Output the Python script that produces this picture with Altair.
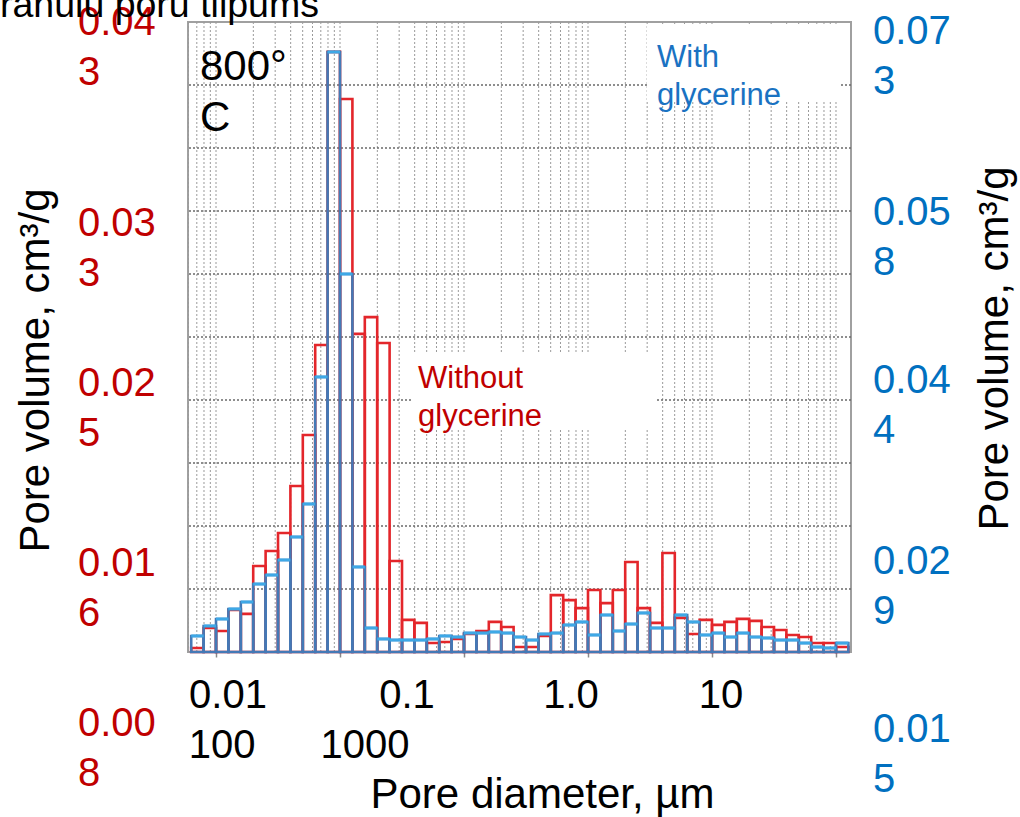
import altair as alt
import numpy as np
import pandas as pd

# ---------------- data ----------------
# histogram bins: 10 bins per decade of pore diameter (µm)
bin_edges_um = [10 ** (-2.2 + 0.1 * i) for i in range(54)]

red_volume = [  # without glycerine (left axis)
    0.01242, 0.01342, 0.01327, 0.01432, 0.01412, 0.01651, 0.01726, 0.01816, 0.02051, 0.02305,
    0.02755, 0.04218, 0.03983, 0.02810, 0.02894, 0.02765, 0.01676, 0.01382, 0.01367, 0.01267,
    0.01272, 0.01287, 0.01312, 0.01327, 0.01372, 0.01347, 0.01247, 0.01247, 0.01302, 0.01506,
    0.01481, 0.01441, 0.01531, 0.01466, 0.01531, 0.01671, 0.01441, 0.01367, 0.01716, 0.01392,
    0.01312, 0.01382, 0.01357, 0.01372, 0.01387, 0.01377, 0.01347, 0.01332, 0.01307, 0.01297,
    0.01267, 0.01267, 0.01247,
]
blue_volume = [  # with glycerine (right axis)
    0.02384, 0.02467, 0.02525, 0.02608, 0.02666, 0.02815, 0.02890, 0.03015, 0.03206, 0.03480,
    0.04535, 0.07234, 0.05390, 0.02957, 0.02450, 0.02359, 0.02350, 0.02350, 0.02350, 0.02359,
    0.02384, 0.02375, 0.02408, 0.02408, 0.02417, 0.02408, 0.02375, 0.02350, 0.02400, 0.02408,
    0.02475, 0.02500, 0.02392, 0.02558, 0.02425, 0.02483, 0.02575, 0.02450, 0.02450, 0.02558,
    0.02500, 0.02392, 0.02408, 0.02375, 0.02408, 0.02375, 0.02367, 0.02350, 0.02350, 0.02325,
    0.02292, 0.02284, 0.02325,
]

red_tick_values = [0.043, 0.033, 0.025, 0.016, 0.008]
blue_tick_values = [0.073, 0.058, 0.044, 0.029, 0.015]
x_labels_row1 = ["0.01", "0.1", "1.0", "10"]
x_labels_row1_at = [0.0125, 0.347, 7.3, 118]
x_labels_row2 = ["100", "1000"]
x_labels_row2_at = [0.0112, 0.159]
decades = [0.01, 0.1, 1, 10, 100, 1000]

X_DOMAIN = [0.005944, 1321.3]
RED_DOMAIN = [0.012218, 0.043674]
BLUE_DOMAIN = [0.022506, 0.074827]

RED = "#e3262b"
RED_TXT = "#c00000"
BLUE = "#4479b6"
BLUE_CAP = "#3ea8e6"
BLUE_TXT = "#0070c0"
FONT = "Liberation Sans"

bins = pd.DataFrame({
    "lo": bin_edges_um[:-1],
    "hi": bin_edges_um[1:],
    "red": red_volume,
    "blue": blue_volume,
})

vgrid_vals = [k * 10.0 ** n for n in range(-3, 4) for k in range(1, 10)
              if X_DOMAIN[0] < k * 10.0 ** n < X_DOMAIN[1]]
vgrid = pd.DataFrame({"g": vgrid_vals})
hgrid = pd.DataFrame({"g": list(np.linspace(RED_DOMAIN[0], RED_DOMAIN[1], 11)[1:-1])})


def wrap(v):
    s = f"{v:.3f}"
    return s[:4] + "\n" + s[4:]


red_ticks = pd.DataFrame({"v": red_tick_values, "t": [wrap(v) for v in red_tick_values]})
blue_ticks = pd.DataFrame({"v": blue_tick_values, "t": [wrap(v) for v in blue_tick_values]})
xl1 = pd.DataFrame({"t": x_labels_row1, "d": x_labels_row1_at})
xl2 = pd.DataFrame({"t": x_labels_row2, "d": x_labels_row2_at})

# white boxes behind the two legend-like annotations (diameter / left-axis units)
label_boxes = pd.DataFrame({
    "d1": [0.3807, 29.9], "d2": [36.0, 1077.0],
    "v1": [0.027197, 0.043574], "v2": [0.023402, 0.039779],
})

# ---------------- scales / axes ----------------
x_scale = alt.Scale(type="log", domain=X_DOMAIN, nice=False)
red_scale = alt.Scale(domain=RED_DOMAIN, nice=False, zero=False)
blue_scale = alt.Scale(domain=BLUE_DOMAIN, nice=False, zero=False)

x_axis = alt.Axis(orient="bottom", values=decades, labels=False, ticks=True, tickSize=5,
                  tickColor="#888888", tickWidth=1.5, domain=False, grid=False,
                  title="Pore diameter, µm", titleFontSize=42, titleFontWeight="normal",
                  titleColor="black", titleFont=FONT, titleBaseline="alphabetic",
                  titleAlign="center", titleX=354, titleY=155)
red_axis = alt.Axis(orient="left", labels=False, ticks=False, domain=False, grid=False,
                    title="Pore volume, cm³/g", titleFontSize=42, titleFontWeight="normal",
                    titleColor="black", titleFont=FONT, titleAngle=270,
                    titleBaseline="alphabetic", titleAlign="center", titleX=-140, titleY=348)
blue_axis = alt.Axis(orient="right", labels=False, ticks=False, domain=False, grid=False,
                     title="Pore volume, cm³/g", titleFontSize=42, titleFontWeight="normal",
                     titleColor="black", titleFont=FONT, titleAngle=270,
                     titleBaseline="alphabetic", titleAlign="center", titleX=156, titleY=326)

X = lambda f: alt.X(f, type="quantitative", scale=x_scale, axis=x_axis)
YR = lambda f: alt.Y(f, type="quantitative", scale=red_scale, axis=red_axis)
YB = lambda f: alt.Y(f, type="quantitative", scale=blue_scale, axis=blue_axis)

# ---------------- red group (left scale) ----------------
vgrid_layer = alt.Chart(vgrid).mark_rule(color="#9a9a9a", strokeWidth=1, strokeDash=[2, 2]).encode(
    x=X("g"))
hgrid_layer = alt.Chart(hgrid).mark_rule(color="#6a6a6a", strokeWidth=1.3, strokeDash=[2, 2]).encode(
    y=YR("g"))
boxes = alt.Chart(label_boxes).mark_rect(color="white").encode(
    x=X("d1"), x2="d2", y=YR("v1"), y2="v2")
red_bars = alt.Chart(bins).mark_rect(fillOpacity=0, stroke=RED, strokeWidth=2.6).encode(
    x=X("lo"), x2="hi", y=YR("red"), y2=alt.datum(RED_DOMAIN[0]))
red_labels = alt.Chart(red_ticks).mark_text(
    align="left", baseline="alphabetic", fontSize=40, font=FONT, color=RED_TXT,
    lineBreak="\n", lineHeight=50).encode(x=alt.value(-110), y=YR("v"), text="t:N")
ann_800 = alt.Chart(pd.DataFrame({"t": ["800°\nC"], "d": [0.00743], "v": [0.040778]})).mark_text(
    align="left", baseline="alphabetic", fontSize=42, font=FONT, color="black",
    lineBreak="\n", lineHeight=51).encode(x=X("d"), y=YR("v"), text="t:N")
ann_without = alt.Chart(pd.DataFrame({"t": ["Without\nglycerine"], "d": [0.4256], "v": [0.0254]})).mark_text(
    align="left", baseline="alphabetic", fontSize=31, font=FONT, color=RED_TXT,
    lineBreak="\n", lineHeight=38.5).encode(x=X("d"), y=YR("v"), text="t:N")
xlab1 = alt.Chart(xl1).mark_text(align="center", baseline="alphabetic", fontSize=40, font=FONT,
                                 color="black").encode(x=X("d"), y=alt.value(686), text="t:N")
xlab2 = alt.Chart(xl2).mark_text(align="center", baseline="alphabetic", fontSize=40, font=FONT,
                                 color="black").encode(x=X("d"), y=alt.value(736), text="t:N")
title_txt = alt.Chart(pd.DataFrame({"t": ["ranulu poru tilpums"]})).mark_text(
    align="left", baseline="alphabetic", fontSize=37.5, font=FONT, color="black").encode(
    x=alt.value(-188), y=alt.value(-5), text="t:N")

red_group = alt.layer(vgrid_layer, hgrid_layer, boxes, red_bars, red_labels, ann_800, ann_without,
                      xlab1, xlab2, title_txt)

# ---------------- blue group (right scale) ----------------
blue_bars = alt.Chart(bins).mark_rect(fillOpacity=0, stroke=BLUE, strokeWidth=2.6).encode(
    x=X("lo"), x2="hi", y=YB("blue"), y2=alt.datum(BLUE_DOMAIN[0]))
blue_caps = alt.Chart(bins).mark_rule(color=BLUE_CAP, strokeWidth=3).encode(
    x=X("lo"), x2="hi", y=YB("blue"))
blue_labels = alt.Chart(blue_ticks).mark_text(
    align="left", baseline="alphabetic", fontSize=40, font=FONT, color=BLUE_TXT,
    lineBreak="\n", lineHeight=50).encode(x=alt.value(685), y=YB("v"), text="t:N")
ann_with = alt.Chart(pd.DataFrame({"t": ["With\nglycerine"], "d": [36.0], "v": [0.071115]})).mark_text(
    align="left", baseline="alphabetic", fontSize=31, font=FONT, color="#1a72c2",
    lineBreak="\n", lineHeight=38.5).encode(x=X("d"), y=YB("v"), text="t:N")

blue_group = alt.layer(blue_bars, blue_caps, blue_labels, ann_with)

chart = alt.layer(red_group, blue_group).resolve_scale(y="independent").properties(
    width=663, height=630,
    padding={"left": 188, "top": 22, "right": 169, "bottom": 165},
    autosize=alt.AutoSizeParams(type="none"),
    background="white",
).configure(font=FONT).configure_view(stroke="#a0a0a0", strokeWidth=2)

chart.save("out.html", embed_options={"renderer": "svg", "actions": False})
